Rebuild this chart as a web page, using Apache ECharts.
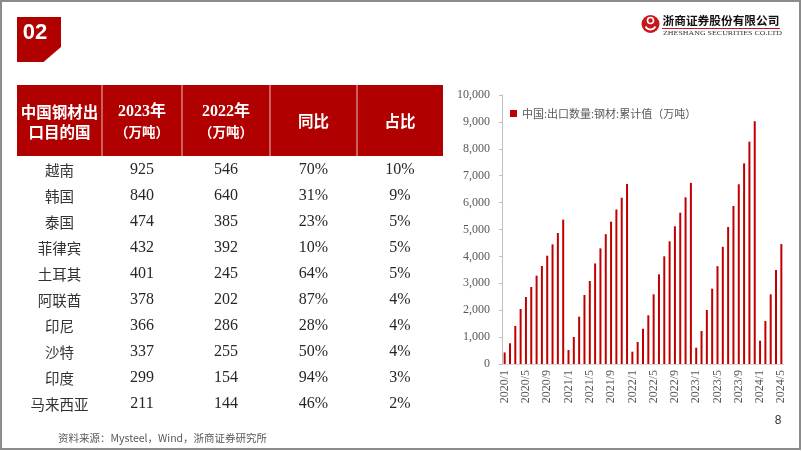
<!DOCTYPE html>
<html>
<head>
<meta charset="utf-8">
<script src="https://cdn.jsdelivr.net/npm/echarts@6/dist/echarts.min.js"></script>
<style>
html,body{margin:0;padding:0;background:#fff;}
#c{width:802px;height:451px;}
</style>
</head>
<body>
<div id="c"></div>
<script>
// ---- Bar chart data (万吨, cumulative) ----
const months = [
 '2020/1','2020/2','2020/3','2020/4','2020/5','2020/6','2020/7','2020/8','2020/9','2020/10','2020/11','2020/12',
 '2021/1','2021/2','2021/3','2021/4','2021/5','2021/6','2021/7','2021/8','2021/9','2021/10','2021/11','2021/12',
 '2022/1','2022/2','2022/3','2022/4','2022/5','2022/6','2022/7','2022/8','2022/9','2022/10','2022/11','2022/12',
 '2023/1','2023/2','2023/3','2023/4','2023/5','2023/6','2023/7','2023/8','2023/9','2023/10','2023/11','2023/12',
 '2024/1','2024/2','2024/3','2024/4','2024/5'
];
const exportCum = [
 430, 770, 1413, 2045, 2490, 2862, 3283, 3643, 4027, 4448, 4870, 5367,
 520, 1003, 1760, 2565, 3086, 3738, 4300, 4826, 5291, 5745, 6182, 6690,
 458, 818, 1313, 1810, 2590, 3334, 4003, 4561, 5119, 5625, 6197, 6732,
 607, 1227, 2007, 2800, 3637, 4358, 5093, 5874, 6681, 7459, 8266, 9026,
 867, 1599, 2590, 3494, 4457
];
const seriesName = '中国:出口数量:钢材:累计值（万吨）';

// ---- Table data ----
const headerCol1 = ['中国钢材出', '口目的国'];
const headerCol2 = ['2023年', '（万吨）'];
const headerCol3 = ['2022年', '（万吨）'];
const headerCol4 = '同比';
const headerCol5 = '占比';
const countries = ['越南','韩国','泰国','菲律宾','土耳其','阿联酋','印尼','沙特','印度','马来西亚'];
const v2023 = [925, 840, 474, 432, 401, 378, 366, 337, 299, 211];
const v2022 = [546, 640, 385, 392, 245, 202, 286, 255, 154, 144];
const yoy = ['70%','31%','23%','10%','64%','87%','28%','50%','94%','46%'];
const share = ['10%','9%','5%','5%','5%','4%','4%','4%','3%','2%'];

const sourceText = '资料来源：Mysteel，Wind，浙商证券研究所';
const pageNo = '8';

const RED = '#B00000';
const CJK = "'Noto Sans CJK SC'";
const SERIF = "'Liberation Serif'";

function txt(text, x, y, size, family, weight, fill, align, extra) {
  const st = {
    text: text, x: x, y: y, fill: fill,
    fontSize: size, fontFamily: family, fontWeight: weight || 'normal',
    textAlign: align || 'center', textVerticalAlign: 'middle',
    align: align || 'center', verticalAlign: 'middle'
  };
  return Object.assign({type: 'text', silent: true, style: st}, extra || {});
}

const g = [];
// slide frame
g.push({type:'rect', silent:true, shape:{x:1,y:1,width:799,height:448}, style:{fill:'none', stroke:'#8c8c8c', lineWidth:2}});
// badge
g.push({type:'polygon', silent:true, shape:{points:[[17,17],[61,17],[61,47],[43.5,62],[17,62]]}, style:{fill:RED}});
g.push(txt('02', 35, 32.5, 22, "'Liberation Sans'", 'bold', '#fff'));
// logo
g.push({type:'circle', silent:true, shape:{cx:650.5, cy:24, r:9}, style:{fill:'#C8161D'}});
g.push({type:'circle', silent:true, shape:{cx:650.5, cy:20.5, r:3}, style:{fill:'none', stroke:'#fff', lineWidth:1.6}});
g.push({type:'arc', silent:true, shape:{cx:650.5, cy:24, r:5.5, startAngle:Math.PI*0.15, endAngle:Math.PI*0.85}, style:{fill:'none', stroke:'#fff', lineWidth:1.8}});
g.push(txt('浙商证券股份有限公司', 662.5, 21, 11.7, CJK, 'bold', '#111', 'left'));
g.push({type:'line', silent:true, shape:{x1:662, y1:28.5, x2:780, y2:28.5}, style:{stroke:'#C8161D', lineWidth:1}});
g.push(txt('ZHESHANG SECURITIES CO.LTD', 663, 33.5, 6.6, SERIF, 'normal', '#333', 'left', {scaleX: 1.2, originX: 663, originY: 33.5}));

// table header
const colX = [17, 102, 182, 270, 357, 443];
g.push({type:'rect', silent:true, shape:{x:17, y:85, width:426, height:71}, style:{fill:RED}});
for (let i = 1; i < 5; i++) {
  g.push({type:'line', silent:true, shape:{x1:colX[i], y1:85, x2:colX[i], y2:156}, style:{stroke:'rgba(255,255,255,0.75)', lineWidth:1}});
}
const cx = i => (colX[i] + colX[i+1]) / 2;
g.push(txt(headerCol1[0], cx(0), 112, 15.5, CJK, 'bold', '#fff'));
g.push(txt(headerCol1[1], cx(0), 132, 15.5, CJK, 'bold', '#fff'));
g.push(txt(headerCol2[0], cx(1), 112, 16, SERIF + ", " + CJK, 'bold', '#fff'));
g.push(txt(headerCol2[1], cx(1), 132, 13.5, CJK, 'bold', '#fff'));
g.push(txt(headerCol3[0], cx(2), 112, 16, SERIF + ", " + CJK, 'bold', '#fff'));
g.push(txt(headerCol3[1], cx(2), 132, 13.5, CJK, 'bold', '#fff'));
g.push(txt(headerCol4, cx(3), 121, 15.5, CJK, 'bold', '#fff'));
g.push(txt(headerCol5, cx(4), 121, 15.5, CJK, 'bold', '#fff'));

// table rows
for (let r = 0; r < countries.length; r++) {
  const y = 170 + r * 26;
  g.push(txt(countries[r], cx(0), y, 14.5, CJK, 'normal', '#333'));
  g.push(txt(String(v2023[r]), cx(1), y, 16, SERIF, 'normal', '#262626'));
  g.push(txt(String(v2022[r]), cx(2), y, 16, SERIF, 'normal', '#262626'));
  g.push(txt(yoy[r], cx(3), y, 16, SERIF, 'normal', '#262626'));
  g.push(txt(share[r], cx(4), y, 16, SERIF, 'normal', '#262626'));
}
// footer
g.push(txt(sourceText, 58, 438.5, 10.5, CJK, 'normal', '#595959', 'left'));
g.push(txt(pageNo, 778, 421, 12, "'Liberation Sans'", 'normal', '#333'));

const chart = echarts.init(document.getElementById('c'), null, {renderer:'canvas', width:802, height:451});
chart.setOption({
  animation: false,
  backgroundColor: '#fff',
  graphic: g,
  legend: {
    show: true,
    left: 505, top: 103,
    icon: 'rect', itemWidth: 7, itemHeight: 7, itemGap: 4,
    textStyle: {fontSize: 11, color: '#595959', fontFamily: CJK},
    data: [seriesName]
  },
  grid: {left: 502, right: 18, top: 95, bottom: 87, containLabel: false},
  xAxis: {
    type: 'category',
    data: months,
    boundaryGap: true,
    axisLine: {show: true, lineStyle: {color: '#d9d9d9'}},
    axisTick: {show: false},
    axisLabel: {
      interval: 3, rotate: 90, margin: 6,
      fontFamily: SERIF, fontSize: 12, color: '#595959'
    }
  },
  yAxis: {
    type: 'value', min: 0, max: 10000, interval: 1000,
    axisLine: {show: true, lineStyle: {color: '#bfbfbf'}},
    axisTick: {show: true, length: 3, lineStyle: {color: '#bfbfbf'}},
    splitLine: {show: false},
    axisLabel: {
      margin: 12, fontFamily: SERIF, fontSize: 12, color: '#595959',
      formatter: v => v.toLocaleString('en-US')
    }
  },
  series: [{
    name: seriesName,
    type: 'bar',
    data: exportCum,
    barWidth: 2,
    itemStyle: {color: '#C00000'}
  }]
});
</script>
</body>
</html>
